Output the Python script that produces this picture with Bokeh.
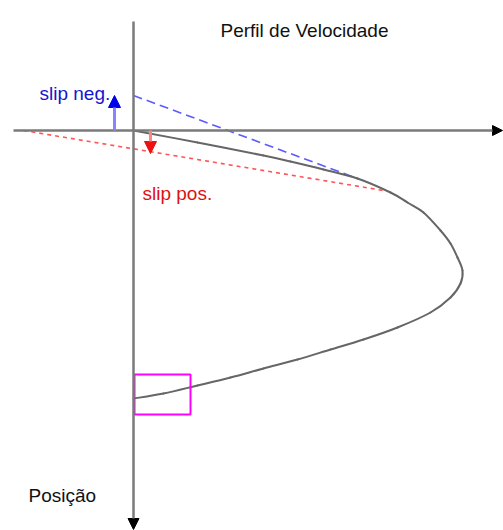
from bokeh.plotting import figure
from bokeh.models import Range1d, Arrow, NormalHead, ColumnDataSource
from bokeh.core.properties import value
from bokeh.embed import file_html
from bokeh.resources import INLINE

# Velocity profile: velocity (to the right) vs. position (downward from the wall)
velocity = [0, 64, 130, 157, 190, 224, 257, 274, 290, 307, 317, 324, 329,
            327, 317, 297, 264, 230, 197, 164, 130, 97, 64, 30, 0]
position = [0, 12, 25, 31, 39, 48, 62, 72, 82, 100, 113, 127, 140,
            153, 167, 182, 197, 209, 219, 229, 238, 247, 255, 263, 268]

# Slip extrapolation lines (velocity, position pairs)
neg_slip_v = [0, 224]
neg_slip_p = [-35, 48]
pos_slip_v = [-110, 250]
pos_slip_p = [0, 60]

# Slip arrows: (velocity, start position, end position)
neg_arrow = (-19, 0, -35)
pos_arrow = (17, 0, 23)

FONT = value("Liberation Sans")

p = figure(width=503, height=530, output_backend="svg", toolbar_location=None,
           x_range=Range1d(-133, 370), y_range=Range1d(400, -130),
           min_border=0, outline_line_color=None)
p.axis.visible = False
p.grid.visible = False
p.background_fill_color = "white"
p.border_fill_color = "white"

# Coordinate axes with arrow heads
p.add_layout(Arrow(x_start=-120, y_start=0, x_end=369, y_end=0,
                   line_color="#7a7a7a", line_width=2.5,
                   end=NormalHead(size=10, fill_color="black", line_color="black")))
p.add_layout(Arrow(x_start=0, y_start=-109, x_end=0, y_end=399,
                   line_color="#7a7a7a", line_width=2.5,
                   end=NormalHead(size=11, fill_color="black", line_color="black")))

# Slip extrapolation lines
p.line(neg_slip_v, neg_slip_p, line_color="#5a5aff", line_width=1.6, line_dash="9 5")
p.line(pos_slip_v, pos_slip_p, line_color="#ff5555", line_width=1.6, line_dash="4 4")

# Velocity profile drawn as a smooth Catmull-Rom curve through the profile points
n = len(velocity)
seg = dict(x0=[], y0=[], x1=[], y1=[], cx0=[], cy0=[], cx1=[], cy1=[])
for i in range(n - 1):
    a = max(i - 1, 0)
    b = min(i + 2, n - 1)
    seg["x0"].append(velocity[i])
    seg["y0"].append(position[i])
    seg["x1"].append(velocity[i + 1])
    seg["y1"].append(position[i + 1])
    seg["cx0"].append(velocity[i] + (velocity[i + 1] - velocity[a]) / 6)
    seg["cy0"].append(position[i] + (position[i + 1] - position[a]) / 6)
    seg["cx1"].append(velocity[i + 1] - (velocity[b] - velocity[i]) / 6)
    seg["cy1"].append(position[i + 1] - (position[b] - position[i]) / 6)
p.bezier(x0="x0", y0="y0", x1="x1", y1="y1", cx0="cx0", cy0="cy0",
         cx1="cx1", cy1="cy1", source=ColumnDataSource(seg),
         line_color="#666666", line_width=2, line_cap="round")

# Slip arrows
p.add_layout(Arrow(x_start=neg_arrow[0], y_start=neg_arrow[1],
                   x_end=neg_arrow[0], y_end=neg_arrow[2],
                   line_color="#8585ff", line_width=3,
                   end=NormalHead(size=12, fill_color="#0000ee", line_color="#0000ee")))
p.add_layout(Arrow(x_start=pos_arrow[0], y_start=pos_arrow[1],
                   x_end=pos_arrow[0], y_end=pos_arrow[2],
                   line_color="#ff8585", line_width=3,
                   end=NormalHead(size=12, fill_color="#ee1111", line_color="#ee1111")))

# Highlight box near the lower wall
p.quad(left=1, right=57, top=244, bottom=284, fill_color=None,
       line_color="#ff00ff", line_width=2)

# Labels
p.text(x=[87], y=[-100], text=["Perfil de Velocidade"], text_font=FONT,
       text_font_size="19px", text_color="#111111", text_baseline="alphabetic")
p.text(x=[-94], y=[-37], text=["slip neg."], text_font=FONT,
       text_font_size="19px", text_color="#1515d0", text_baseline="alphabetic")
p.text(x=[9], y=[63], text=["slip pos."], text_font=FONT,
       text_font_size="19px", text_color="#e01010", text_baseline="alphabetic")
p.text(x=[-105], y=[365], text=["Posição"], text_font=FONT,
       text_font_size="19px", text_color="#111111", text_baseline="alphabetic")

open("out.html", "w").write(file_html(p, INLINE))
